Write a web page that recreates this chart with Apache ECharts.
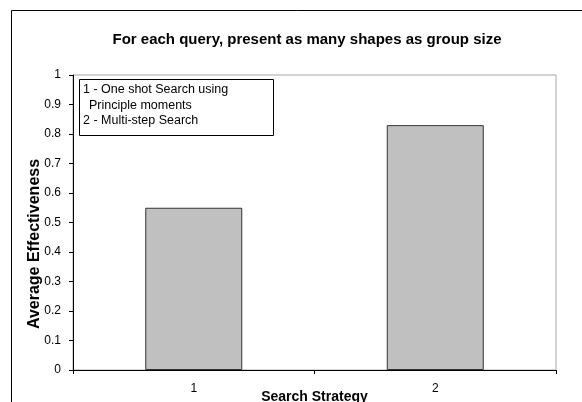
<!DOCTYPE html>
<html>
<head>
<meta charset="utf-8">
<script src="https://cdn.jsdelivr.net/npm/echarts@6/dist/echarts.min.js"></script>
<style>
  html, body { margin: 0; padding: 0; background: #fff; }
  #chart { width: 582px; height: 402px; }
</style>
</head>
<body>
<div id="chart"></div>
<script>
// Search strategies and their average effectiveness
const categories = ['1', '2'];
const effectiveness = [0.55, 0.83];
const yTicks = [0, 0.1, 0.2, 0.3, 0.4, 0.5, 0.6, 0.7, 0.8, 0.9, 1];
const titleText = 'For each query, present as many shapes as group size';
const xAxisTitle = 'Search Strategy';
const yAxisTitle = 'Average Effectiveness';
const noteLines = ['1 - One shot Search using', 'Principle moments', '2 - Multi-step Search'];
const noteIndent = [0, 6, 0];

const FONT = '"Liberation Sans", Arial, sans-serif';
const chart = echarts.init(document.getElementById('chart'), null, { renderer: 'canvas' });

// text box explaining the strategy numbers
const noteChildren = [{
  type: 'rect',
  shape: { x: 0.5, y: 0.5, width: 194, height: 56 },
  style: { fill: '#fff', stroke: '#000', lineWidth: 1 }
}];
noteLines.forEach((line, i) => {
  noteChildren.push({
    type: 'text',
    x: 4 + noteIndent[i],
    y: 11 + i * 15.5,
    style: {
      text: line,
      font: '12.5px ' + FONT,
      fill: '#000',
      verticalAlign: 'middle'
    }
  });
});

chart.setOption({
  animation: false,
  backgroundColor: '#ffffff',
  title: {
    text: titleText,
    left: 302,
    top: 27,
    textAlign: 'center',
    textStyle: { fontFamily: FONT, fontSize: 15, fontWeight: 'bold', color: '#000' }
  },
  grid: {
    left: 73, top: 75, width: 483, height: 295,
    outerBoundsMode: 'none',
    containLabel: false,
    show: true, borderColor: '#a6a6a6', borderWidth: 1, backgroundColor: 'transparent'
  },
  xAxis: {
    type: 'category',
    data: categories,
    name: xAxisTitle,
    nameLocation: 'middle',
    nameMoveOverlap: false,
    nameGap: 20,
    nameTextStyle: { fontFamily: FONT, fontSize: 14, fontWeight: 'bold', color: '#000', verticalAlign: 'top' },
    axisLine: { lineStyle: { color: '#000', width: 1 } },
    axisTick: { show: true, alignWithLabel: false, length: 4, lineStyle: { color: '#000' } },
    axisLabel: { fontFamily: FONT, fontSize: 12, color: '#000', margin: 13 }
  },
  yAxis: {
    type: 'value',
    min: yTicks[0],
    max: yTicks[yTicks.length - 1],
    interval: 0.1,
    axisLine: { show: true, lineStyle: { color: '#000', width: 1 } },
    axisTick: { show: true, length: 4, lineStyle: { color: '#000' } },
    splitLine: { show: false },
    axisLabel: {
      fontFamily: FONT, fontSize: 12, color: '#000', margin: 12,
      formatter: v => String(Math.round(v * 10) / 10)
    }
  },
  series: [{
    type: 'bar',
    data: effectiveness,
    barWidth: 97,
    itemStyle: { color: '#c0c0c0', borderColor: '#333', borderWidth: 1 }
  }],
  graphic: [
    {
      type: 'rect',
      shape: { x: 11.5, y: 10.5, width: 600, height: 420 },
      style: { fill: 'none', stroke: '#000', lineWidth: 1 },
      z: 100
    },
    {
      type: 'text',
      x: 35, y: 244,
      rotation: Math.PI / 2,
      style: {
        text: yAxisTitle,
        font: 'bold 16px ' + FONT,
        fill: '#000',
        align: 'center',
        verticalAlign: 'middle'
      },
      z: 100
    },
    {
      type: 'group',
      left: 79, top: 79, z: 100,
      children: noteChildren
    }
  ]
});
</script>
</body>
</html>
